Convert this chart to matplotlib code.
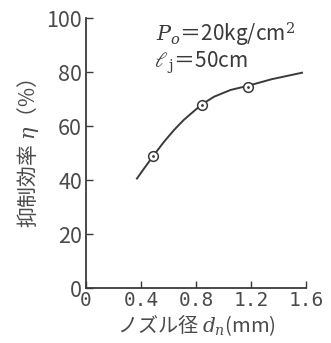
import numpy as np
import matplotlib
matplotlib.use('Agg')
import matplotlib.pyplot as plt

plt.rcParams['font.family'] = ['Noto Sans CJK JP', 'DejaVu Sans']
plt.rcParams['mathtext.fontset'] = 'dejavuserif'

# smooth curve
curve_x = [0.37, 0.43, 0.49, 0.565, 0.64, 0.71, 0.785, 0.84, 0.93, 1.05, 1.18, 1.35, 1.57]
curve_y = [40.6, 44.9, 49.1, 54.1, 58.6, 62.3, 65.6, 68.0, 70.9, 73.4, 75.0, 77.4, 79.8]

# measured points (circles)
meas_x = [0.49, 0.84, 1.18]
meas_y = [49.1, 68.0, 74.6]

xticks = [0, 0.4, 0.8, 1.2, 1.6]
xtick_labels = ['0', '0.4', '0.8', '1.2', '1.6']
yticks = [0, 20, 40, 60, 80, 100]

ink = '#3a3a3a'
txt = '#4a4a4a'

fig = plt.figure(figsize=(3.31, 3.43), dpi=100)
ax = fig.add_axes([0.26, 0.16, 0.665, 0.787])

ax.plot(curve_x, curve_y, color=ink, lw=1.4, solid_joinstyle='round')
ax.plot(meas_x, meas_y, 'o', ms=7, mfc='white', mec=ink, mew=1.1)
ax.plot(meas_x, meas_y, '.', ms=2, color=ink)

ax.set_xlim(0, 1.6)
ax.set_ylim(0, 100)
ax.spines['top'].set_visible(False)
ax.spines['right'].set_visible(False)
ax.spines['left'].set_color(ink)
ax.spines['bottom'].set_color(ink)
ax.spines['left'].set_linewidth(1.3)
ax.spines['bottom'].set_linewidth(1.3)

ax.set_xticks(xticks)
ax.set_xticklabels(xtick_labels, family='DejaVu Sans Mono', fontsize=14, color=txt)
ax.set_yticks(yticks)
ax.set_yticklabels([str(v) for v in yticks], fontsize=15.5, color=txt)
ax.tick_params(axis='both', direction='in', length=5, width=1, color=ink, pad=2)
ax.tick_params(axis='y', pad=3)

ax.set_ylabel(r'抑制効率 $\eta$（%）', fontsize=15, color=txt, labelpad=4)
ax.set_xlabel(r'ノズル径 $d_n$(mm)', fontsize=14.5, color=txt, labelpad=2)

ax.text(0.32, 0.99, r'$P_o$＝20kg/cm$^2$', transform=ax.transAxes,
        fontsize=15, color=ink, va='top', ha='left')
ax.text(0.31, 0.885, r'$\ell_{\,\mathrm{j}}$＝50cm', transform=ax.transAxes,
        fontsize=15, color=ink, va='top', ha='left')

fig.savefig('out.png', dpi=100)
